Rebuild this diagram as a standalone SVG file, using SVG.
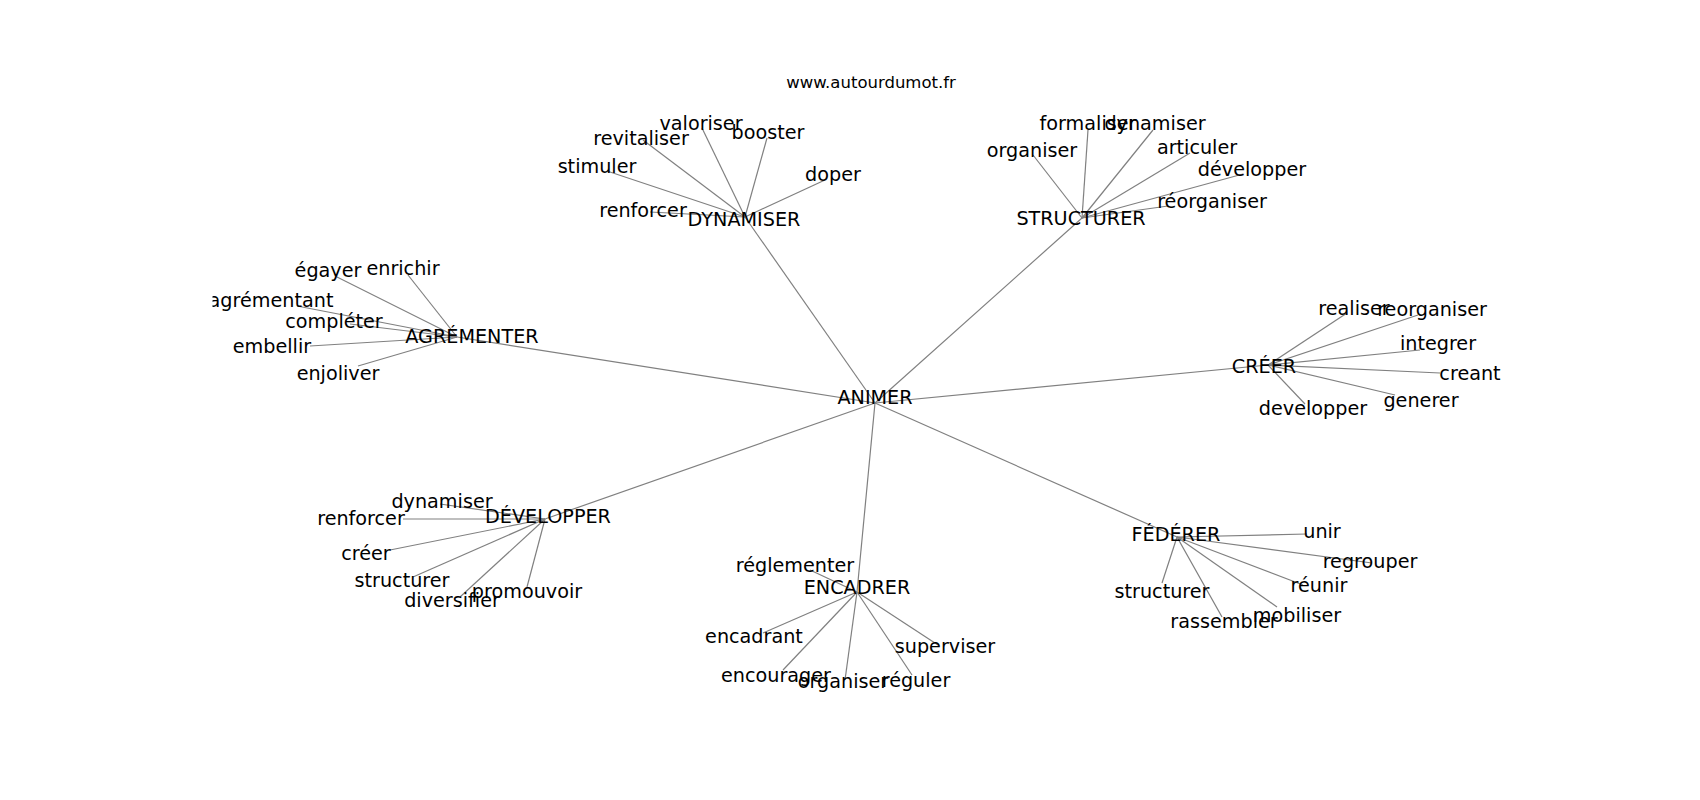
<svg xmlns="http://www.w3.org/2000/svg" width="1700" height="800" viewBox="0 0 1700 800">
<style>
.e{stroke:#808080;stroke-width:1.2;fill:none}
.t{font-family:"DejaVu Sans",sans-serif;font-size:19.2px;fill:#000;text-anchor:middle}
.ti{font-family:"DejaVu Sans",sans-serif;font-size:16.5px;fill:#000;text-anchor:middle}
</style>
<defs><clipPath id="ax"><rect x="212.5" y="96" width="1317.5" height="616"/></clipPath></defs>
<rect width="1700" height="800" fill="#fff"/>
<text class="ti" x="871" y="88">www.autourdumot.fr</text>
<g clip-path="url(#ax)">
<g id="connectors">
<line class="e" x1="875" y1="403" x2="745" y2="217"/>
<line class="e" x1="875" y1="403" x2="1082" y2="218"/>
<line class="e" x1="875" y1="403" x2="457" y2="337"/>
<line class="e" x1="875" y1="403" x2="1268" y2="365"/>
<line class="e" x1="875" y1="403" x2="1177" y2="537"/>
<line class="e" x1="875" y1="403" x2="857" y2="592"/>
<line class="e" x1="875" y1="403" x2="545" y2="519"/>
<line class="e" x1="745" y1="217" x2="702" y2="128"/>
<line class="e" x1="745" y1="217" x2="643" y2="140"/>
<line class="e" x1="745" y1="217" x2="767" y2="138"/>
<line class="e" x1="745" y1="217" x2="607" y2="171"/>
<line class="e" x1="745" y1="217" x2="825" y2="180"/>
<line class="e" x1="745" y1="217" x2="650" y2="212"/>
<line class="e" x1="1082" y1="218" x2="1088" y2="130"/>
<line class="e" x1="1082" y1="218" x2="1153" y2="130"/>
<line class="e" x1="1082" y1="218" x2="1033" y2="155"/>
<line class="e" x1="1082" y1="218" x2="1190" y2="153"/>
<line class="e" x1="1082" y1="218" x2="1243" y2="174"/>
<line class="e" x1="1082" y1="218" x2="1168" y2="206"/>
<line class="e" x1="457" y1="337" x2="337" y2="277"/>
<line class="e" x1="457" y1="337" x2="408" y2="275"/>
<line class="e" x1="457" y1="337" x2="297" y2="306"/>
<line class="e" x1="457" y1="337" x2="350" y2="324"/>
<line class="e" x1="457" y1="337" x2="310" y2="346"/>
<line class="e" x1="457" y1="337" x2="358" y2="366"/>
<line class="e" x1="1268" y1="365" x2="1347" y2="313"/>
<line class="e" x1="1268" y1="365" x2="1418" y2="315"/>
<line class="e" x1="1268" y1="365" x2="1420" y2="350"/>
<line class="e" x1="1268" y1="365" x2="1440" y2="373"/>
<line class="e" x1="1268" y1="365" x2="1395" y2="395"/>
<line class="e" x1="1268" y1="365" x2="1305" y2="404"/>
<line class="e" x1="1177" y1="537" x2="1307" y2="534"/>
<line class="e" x1="1177" y1="537" x2="1372" y2="563"/>
<line class="e" x1="1177" y1="537" x2="1303" y2="585"/>
<line class="e" x1="1177" y1="537" x2="1277" y2="607"/>
<line class="e" x1="1177" y1="537" x2="1222" y2="617"/>
<line class="e" x1="1177" y1="537" x2="1162" y2="583"/>
<line class="e" x1="857" y1="592" x2="810" y2="570"/>
<line class="e" x1="857" y1="592" x2="763" y2="633"/>
<line class="e" x1="857" y1="592" x2="783" y2="670"/>
<line class="e" x1="857" y1="592" x2="845" y2="680"/>
<line class="e" x1="857" y1="592" x2="912" y2="675"/>
<line class="e" x1="857" y1="592" x2="938" y2="645"/>
<line class="e" x1="545" y1="519" x2="440" y2="504"/>
<line class="e" x1="545" y1="519" x2="403" y2="519"/>
<line class="e" x1="545" y1="519" x2="390" y2="550"/>
<line class="e" x1="545" y1="519" x2="413" y2="577"/>
<line class="e" x1="545" y1="519" x2="460" y2="597"/>
<line class="e" x1="545" y1="519" x2="527" y2="587"/>
</g>
<g id="n-animer"><text class="t" x="875" y="404">ANIMER</text></g>
<g id="n-dynamiser"><text class="t" x="744" y="226">DYNAMISER</text></g>
<g id="n-dyn-valoriser"><text class="t" x="701" y="130">valoriser</text></g>
<g id="n-dyn-revitaliser"><text class="t" x="641" y="145">revitaliser</text></g>
<g id="n-dyn-booster"><text class="t" x="768" y="139">booster</text></g>
<g id="n-dyn-stimuler"><text class="t" x="597" y="173">stimuler</text></g>
<g id="n-dyn-doper"><text class="t" x="833" y="181">doper</text></g>
<g id="n-dyn-renforcer"><text class="t" x="643" y="217">renforcer</text></g>
<g id="n-structurer"><text class="t" x="1081" y="225">STRUCTURER</text></g>
<g id="n-str-formaliser"><text class="t" x="1088" y="130">formaliser</text></g>
<g id="n-str-dynamiser"><text class="t" x="1155" y="130">dynamiser</text></g>
<g id="n-str-organiser"><text class="t" x="1032" y="157">organiser</text></g>
<g id="n-str-articuler"><text class="t" x="1197" y="154">articuler</text></g>
<g id="n-str-developper"><text class="t" x="1252" y="176">développer</text></g>
<g id="n-str-reorganiser"><text class="t" x="1212" y="208">réorganiser</text></g>
<g id="n-agrementer"><text class="t" x="472" y="343">AGRÉMENTER</text></g>
<g id="n-agr-egayer"><text class="t" x="328" y="277">égayer</text></g>
<g id="n-agr-enrichir"><text class="t" x="403" y="275">enrichir</text></g>
<g id="n-agr-agrementant"><text class="t" x="271" y="307">agrémentant</text></g>
<g id="n-agr-completer"><text class="t" x="334" y="328">compléter</text></g>
<g id="n-agr-embellir"><text class="t" x="272" y="353">embellir</text></g>
<g id="n-agr-enjoliver"><text class="t" x="338" y="380">enjoliver</text></g>
<g id="n-creer"><text class="t" x="1264" y="373">CRÉER</text></g>
<g id="n-cre-realiser"><text class="t" x="1354" y="315">realiser</text></g>
<g id="n-cre-reorganiser"><text class="t" x="1432" y="316">reorganiser</text></g>
<g id="n-cre-integrer"><text class="t" x="1438" y="350">integrer</text></g>
<g id="n-cre-creant"><text class="t" x="1470" y="380">creant</text></g>
<g id="n-cre-generer"><text class="t" x="1421" y="407">generer</text></g>
<g id="n-cre-developper"><text class="t" x="1313" y="415">developper</text></g>
<g id="n-federer"><text class="t" x="1176" y="541">FÉDÉRER</text></g>
<g id="n-fed-unir"><text class="t" x="1322" y="538">unir</text></g>
<g id="n-fed-regrouper"><text class="t" x="1370" y="568">regrouper</text></g>
<g id="n-fed-reunir"><text class="t" x="1319" y="592">réunir</text></g>
<g id="n-fed-mobiliser"><text class="t" x="1297" y="622">mobiliser</text></g>
<g id="n-fed-rassembler"><text class="t" x="1224" y="628">rassembler</text></g>
<g id="n-fed-structurer"><text class="t" x="1162" y="598">structurer</text></g>
<g id="n-encadrer"><text class="t" x="857" y="594">ENCADRER</text></g>
<g id="n-enc-reglementer"><text class="t" x="795" y="572">réglementer</text></g>
<g id="n-enc-encadrant"><text class="t" x="754" y="643">encadrant</text></g>
<g id="n-enc-encourager"><text class="t" x="776" y="682">encourager</text></g>
<g id="n-enc-organiser"><text class="t" x="843" y="688">organiser</text></g>
<g id="n-enc-reguler"><text class="t" x="916" y="687">réguler</text></g>
<g id="n-enc-superviser"><text class="t" x="945" y="653">superviser</text></g>
<g id="n-developper"><text class="t" x="548" y="523">DÉVELOPPER</text></g>
<g id="n-dev-dynamiser"><text class="t" x="442" y="508">dynamiser</text></g>
<g id="n-dev-renforcer"><text class="t" x="361" y="525">renforcer</text></g>
<g id="n-dev-creer"><text class="t" x="366" y="560">créer</text></g>
<g id="n-dev-structurer"><text class="t" x="402" y="587">structurer</text></g>
<g id="n-dev-diversifier"><text class="t" x="452" y="607">diversifier</text></g>
<g id="n-dev-promouvoir"><text class="t" x="527" y="598">promouvoir</text></g>
</g>
</svg>
